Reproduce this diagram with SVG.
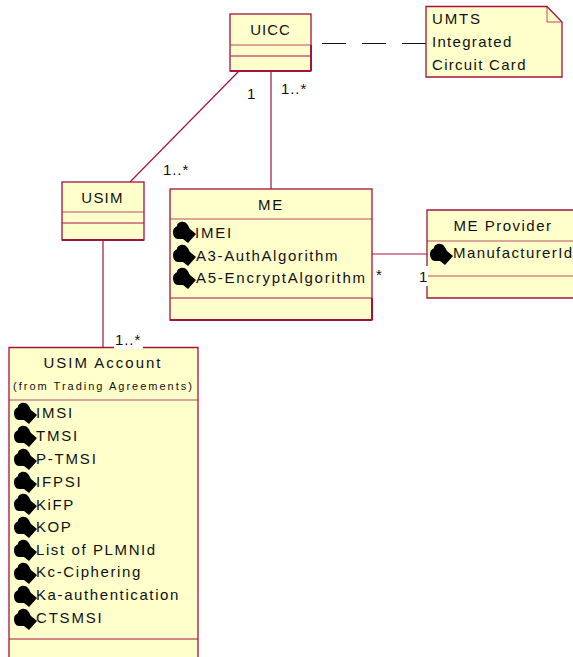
<svg xmlns="http://www.w3.org/2000/svg" width="573" height="657" viewBox="0 0 573 657">
<style>
.box{fill:#ffffcc;stroke:#a5123f;stroke-width:1.3}
.div{fill:none;stroke:#a5123f;stroke-width:1;opacity:.75}
.div2{fill:none;stroke:#a5123f;stroke-width:1.2}
.bot{fill:none;stroke:#a5123f;stroke-width:2}
.con{fill:none;stroke:#a5123f;stroke-width:1.2}
text{font-family:"Liberation Sans",Arial,sans-serif;font-size:15px;fill:#111;letter-spacing:.9px}
.c{text-anchor:middle}
.s{font-size:11px;letter-spacing:2px}
.a{letter-spacing:1.6px}
.t{letter-spacing:1.8px}
.n{letter-spacing:1.3px}
</style>
<defs>
<path id="ico" d="M0 11C0 7 3 6 4 5C4 1 11 -1 14 3C16 5 16 7 17 8L23 13L15 22L10 18L5 18C2 18 0 15 0 11Z" fill="#000"/>
</defs>
<g id="connectors">
<path class="con" d="M239 71L130 182"/>
<path class="con" d="M271 71V189"/>
<path class="con" d="M103 240V347"/>
<path class="con" d="M372 254H427"/>
<path d="M322 43.500H346M362 43.500H386M402 43.500H426" fill="none" stroke="#111" stroke-width="1.2"/>
</g>
<g id="uicc">
<rect class="box" x="230" y="14" width="81" height="57"/>
<path class="div" d="M230 45H311"/><path class="div2" d="M230 56H311"/><path class="bot" d="M230 71H311M311 45V71"/>
<text class="c" x="270.500" y="35">UICC</text>
</g>
<g id="note">
<path class="box" d="M426 6.500H547L562 22V77H426Z"/>
<path class="div" d="M547 6.500V22H562"/>
<text class="t" x="432" y="24">UMTS</text><text class="n" x="432" y="47">Integrated</text><text class="n" x="432" y="70">Circuit Card</text>
</g>
<g id="usim">
<rect class="box" x="62" y="182" width="82" height="58"/>
<path class="div" d="M62 212H144"/><path class="div2" d="M62 223H144"/><path class="bot" d="M62 240H144"/>
<text class="c" x="102.500" y="203" style="letter-spacing:1.2px">USIM</text>
</g>
<g id="me">
<rect class="box" x="170" y="189" width="202" height="131"/>
<path class="div" d="M170 219H372"/><path class="div2" d="M170 298H372"/><path class="bot" d="M170 320H372M372 298V320"/>
<text class="c t" x="271" y="210">ME</text>
<use href="#ico" x="173" y="221"/><use href="#ico" x="173" y="244"/><use href="#ico" x="173" y="267"/>
<text class="t" x="195" y="238">IMEI</text><text class="a" x="196" y="261">A3-AuthAlgorithm</text><text class="a" style="letter-spacing:1.75px" x="196" y="283">A5-EncryptAlgorithm</text>
</g>
<g id="me-provider">
<path class="box" d="M427 298V210H574V298Z"/>
<path class="div" d="M427 241H574"/><path class="div" d="M427 276H574"/>
<text class="c" style="letter-spacing:1.5px" x="503" y="231">ME Provider</text>
<use href="#ico" x="430" y="243"/>
<text style="letter-spacing:1.4px" x="453" y="258">ManufacturerId</text>
</g>
<g id="usim-account">
<path class="box" d="M9 657V347.500H198V657"/>
<path class="div" d="M9 400H198"/><path class="div2" d="M9 639H198"/>
<text class="c" style="letter-spacing:2px" x="103" y="368">USIM Account</text>
<text class="c s" x="103.500" y="390">(from Trading Agreements)</text>
<g>
<use href="#ico" x="14" y="402"/><use href="#ico" x="14" y="425"/><use href="#ico" x="14" y="448"/><use href="#ico" x="14" y="471"/><use href="#ico" x="14" y="493"/><use href="#ico" x="14" y="516"/><use href="#ico" x="14" y="539"/><use href="#ico" x="14" y="562"/><use href="#ico" x="14" y="585"/><use href="#ico" x="14" y="608"/>
</g>
<text class="t" x="36" y="418">IMSI</text><text class="t" x="36" y="441">TMSI</text><text class="t" x="36" y="464">P-TMSI</text><text class="t" x="36" y="487">IFPSI</text><text class="a" x="36" y="510">KiFP</text><text class="a" x="36" y="532">KOP</text><text class="a" x="36" y="555">List of PLMNId</text><text class="a" x="36" y="577">Kc-Ciphering</text><text class="a" x="36" y="600">Ka-authentication</text><text class="t" x="36" y="623">CTSMSI</text>
</g>
<g id="labels">
<text x="247" y="99">1</text>
<text x="281" y="94">1..*</text>
<text x="163" y="175">1..*</text>
<rect x="114" y="331" width="29" height="18" fill="#fff"/>
<text x="115" y="345">1..*</text>
<text x="376" y="280">*</text>
<rect x="419" y="266" width="9" height="20" fill="#fff"/>
<text x="419" y="282">1</text>
</g>
</svg>
